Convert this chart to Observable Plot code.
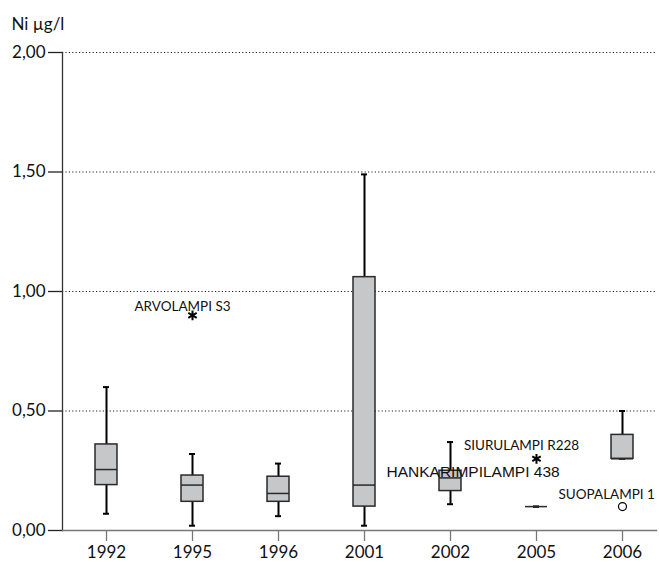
<!DOCTYPE html>
<html>
<head>
<meta charset="utf-8">
<script src="https://cdn.jsdelivr.net/npm/d3@7"></script>
<script src="https://cdn.jsdelivr.net/npm/@observablehq/plot@0.6"></script>
<style>
  html, body { margin: 0; padding: 0; background: #fff; }
  #chart svg { display: block; }
</style>
</head>
<body>
<div id="chart"></div>
<script>
// Nickel concentration (µg/l) by sampling year: box-plot summaries
const years      = ["1992", "1995", "1996", "2001", "2002", "2005", "2006"];
const whiskerLow = [0.07, 0.02, 0.06, 0.02, 0.11, 0.10, 0.30];
const q1         = [0.19, 0.12, 0.12, 0.10, 0.165, 0.10, 0.30];
const medians    = [0.255, 0.19, 0.155, 0.19, 0.22, 0.10, 0.30];
const q3         = [0.36, 0.23, 0.225, 1.06, 0.25, 0.10, 0.40];
const whiskerHigh= [0.60, 0.32, 0.28, 1.49, 0.37, 0.10, 0.50];

// Flagged lakes: extremes (*) and outliers (o)
const flagYears  = ["1995", "2005", "2006"];
const flagValues = [0.90, 0.30, 0.10];
const flagNames  = ["ARVOLAMPI S3", "SIURULAMPI R228", "SUOPALAMPI 1"];
const flagKinds  = ["extreme", "extreme", "outlier"];

// Extra site label next to the 2005 group
const noteYear  = "2005";
const noteValue = 0.223;
const noteText  = "HANKARIMPILAMPI 438";

const yTicks = [0, 0.5, 1, 1.5, 2];

const boxes = years.map((year, i) => ({
  year, lo: whiskerLow[i], q1: q1[i], med: medians[i], q3: q3[i], hi: whiskerHigh[i]
}));
const flags = flagYears.map((year, i) => ({
  year, value: flagValues[i], name: flagNames[i], kind: flagKinds[i]
}));
const extremes = flags.filter(d => d.kind === "extreme");
const outliers = flags.filter(d => d.kind === "outlier");

const comma = d => d.toFixed(2).replace(".", ",");
const mainFont = "Lato, 'Open Sans', sans-serif";

// label placement for each flagged site (offsets in px)
const flagLabel = (data, dx, dy, anchor) => Plot.text(data, {
  x: "year", y: "value", text: "name", dx, dy,
  textAnchor: anchor, lineAnchor: "bottom", fontSize: 13.5, fill: "#111"
});

const chart = Plot.plot({
  width: 659,
  height: 562,
  marginLeft: 62,
  marginRight: 3,
  marginTop: 52,
  marginBottom: 32,
  style: { fontFamily: mainFont, background: "#fff", color: "#111" },
  x: {
    type: "band",
    domain: years,
    range: [63, 665],
    paddingInner: 0.744,
    paddingOuter: 0.372
  },
  y: { domain: [0, 2] },
  marks: [
    Plot.gridY([0.5, 1, 1.5, 2], {
      stroke: "#222", strokeOpacity: 1, strokeWidth: 1, strokeDasharray: "1.2,2.2"
    }),
    Plot.frame({ anchor: "left", stroke: "#333", strokeWidth: 1.3 }),
    Plot.frame({ anchor: "bottom", stroke: "#777", strokeWidth: 1.3 }),
    Plot.axisY(yTicks, {
      tickSize: 14, tickPadding: 3, tickFormat: comma, label: null,
      fontSize: 17, stroke: "#222", strokeWidth: 1.3, fill: "#111"
    }),
    Plot.axisX({
      tickSize: 11, tickPadding: 4, label: null,
      fontSize: 17, stroke: "#777", strokeWidth: 1.3, fill: "#111"
    }),
    // whiskers
    Plot.ruleX(boxes, { x: "year", y1: "lo", y2: "hi", stroke: "#000", strokeWidth: 2 }),
    Plot.tickY(boxes, { x: "year", y: "lo", stroke: "#000", strokeWidth: 2, inset: 8 }),
    Plot.tickY(boxes, { x: "year", y: "hi", stroke: "#000", strokeWidth: 2, inset: 8 }),
    // interquartile boxes
    Plot.barY(boxes, {
      x: "year", y1: "q1", y2: "q3", fill: "#c6c7c9", stroke: "#2a2a2a", strokeWidth: 1.5
    }),
    // medians
    Plot.tickY(boxes, { x: "year", y: "med", stroke: "#2a2a2a", strokeWidth: 1.5 }),
    // flagged values
    Plot.dot(extremes, {
      x: "year", y: "value", symbol: "asterisk", r: 4.6, stroke: "#000", strokeWidth: 2
    }),
    Plot.dot(outliers, {
      x: "year", y: "value", symbol: "circle", r: 4, fill: "none", stroke: "#000", strokeWidth: 1.2
    }),
    flagLabel(extremes.filter(d => d.year === "1995"), -10, -4, "middle"),
    flagLabel(extremes.filter(d => d.year === "2005"), -15, -9, "middle"),
    flagLabel(outliers, -64, -8, "start"),
    Plot.text([{ year: noteYear, value: noteValue, name: noteText }], {
      x: "year", y: "value", text: "name",
      dx: -150, textAnchor: "start", lineAnchor: "bottom",
      fontSize: 15.5, fontFamily: "'Liberation Sans', Arial, sans-serif", fill: "#111"
    }),
    // unit label
    Plot.text(["Ni µg/l"], {
      frameAnchor: "top-left", dx: -51, dy: -23,
      textAnchor: "start", lineAnchor: "bottom", fontSize: 17, fill: "#111"
    })
  ]
});

document.getElementById("chart").append(chart);
</script>
</body>
</html>
